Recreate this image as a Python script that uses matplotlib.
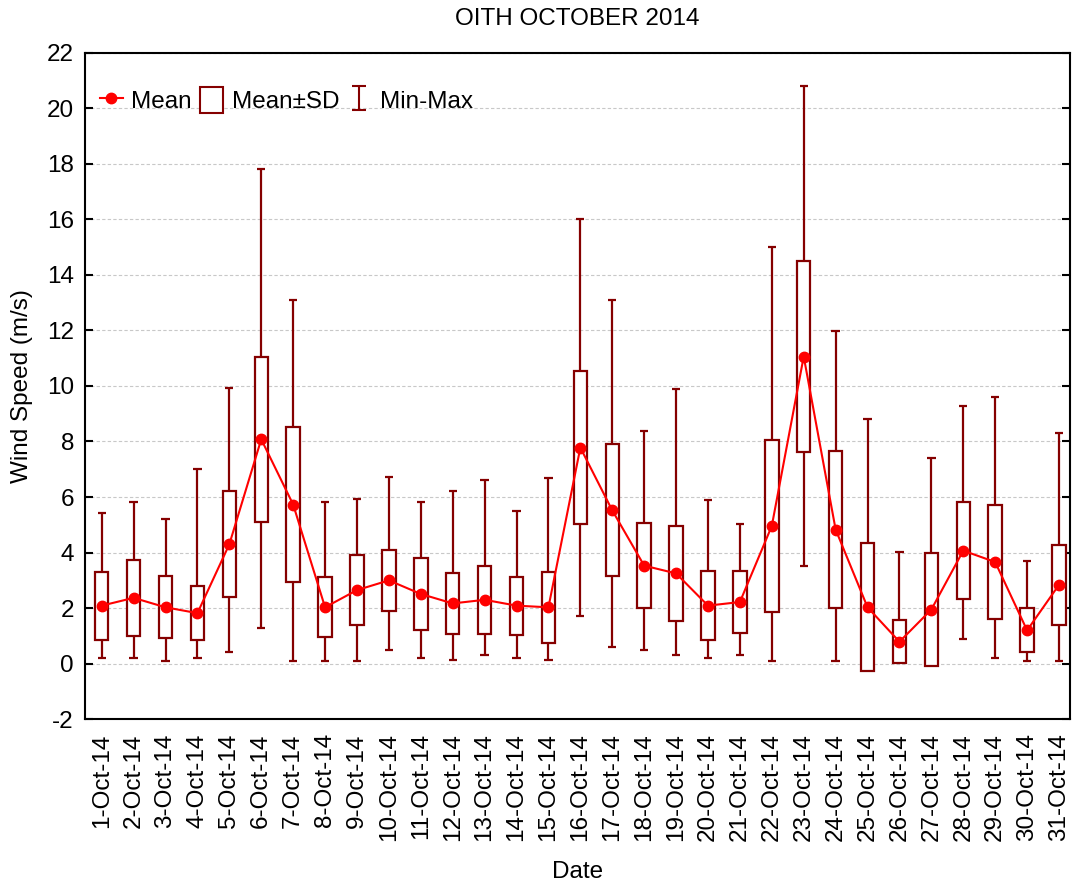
import numpy as np
import matplotlib.pyplot as plt
from matplotlib.lines import Line2D
from matplotlib.patches import Rectangle
from matplotlib.path import Path

plt.rcParams['font.family'] = ['Liberation Sans', 'DejaVu Sans']

days = [f"{d}-Oct-14" for d in range(1, 32)]
mean = [2.09, 2.37, 2.03, 1.82, 4.30, 8.08, 5.73, 2.03, 2.65, 3.00,
        2.51, 2.17, 2.30, 2.09, 2.03, 7.78, 5.52, 3.53, 3.25, 2.09,
        2.22, 4.96, 11.06, 4.83, 2.03, 0.79, 1.95, 4.07, 3.66, 1.20, 2.84]
sd = [1.22, 1.37, 1.12, 0.98, 1.90, 2.98, 2.80, 1.08, 1.25, 1.10,
      1.29, 1.10, 1.22, 1.04, 1.28, 2.75, 2.38, 1.53, 1.72, 1.24,
      1.10, 3.09, 3.45, 2.82, 2.30, 0.78, 2.05, 1.75, 2.04, 0.79, 1.45]
wmin = [0.20, 0.20, 0.10, 0.20, 0.41, 1.30, 0.10, 0.10, 0.10, 0.49,
        0.22, 0.12, 0.33, 0.22, 0.12, 1.73, 0.61, 0.51, 0.33, 0.22,
        0.33, 0.10, 3.50, 0.10, 0.10, 0.10, 0.10, 0.90, 0.21, 0.10, 0.10]
wmax = [5.43, 5.81, 5.20, 7.00, 9.93, 17.80, 13.10, 5.81, 5.92, 6.73,
        5.82, 6.20, 6.60, 5.50, 6.69, 16.00, 13.10, 8.39, 9.90, 5.91,
        5.02, 15.00, 20.80, 11.98, 8.80, 4.01, 7.39, 9.29, 9.60, 3.69, 8.32]

dark = '#850000'
red = '#ff0000'
fs = 17.5

x = np.arange(1, len(days) + 1)
mean = np.array(mean)
sd = np.array(sd)

fig = plt.figure(figsize=(10.72, 8.85), dpi=100)
ax = fig.add_axes([0.0793, 0.1873, 0.9184, 0.7532])

# whiskers (min-max) behind the boxes
ax.vlines(x, wmin, wmax, color=dark, lw=1.6, zorder=2)
cap = 0.13
ax.hlines(wmin, x - cap, x + cap, color=dark, lw=1.6, zorder=2)
ax.hlines(wmax, x - cap, x + cap, color=dark, lw=1.6, zorder=2)

# mean +- sd boxes
ax.bar(x, 2 * sd, bottom=mean - sd, width=0.42, facecolor='white',
       edgecolor=dark, linewidth=1.6, zorder=3)

# mean line
ax.plot(x, mean, '-o', color=red, lw=1.5, markersize=7.5, zorder=4)

ax.set_xlim(0.477, 31.33)
ax.set_ylim(-2, 22)
ax.set_yticks(np.arange(-2, 23, 2))
ax.set_yticklabels([str(v) for v in range(-2, 23, 2)])
ax.yaxis.grid(True, color='#c8c8c8', linestyle=(0, (3, 2)), lw=0.8)
ax.set_axisbelow(True)

ax.set_xticks(x)
ax.set_xticklabels(days, rotation=90)
ax.set_xticks(x[::2], minor=True)
ax.tick_params(axis='x', which='major', length=0, pad=10, labelsize=fs)
ax.tick_params(axis='x', which='minor', direction='in', length=6, width=1.5,
               top=True, bottom=True)
ax.tick_params(axis='y', direction='in', length=6, width=1.5, right=True,
               labelsize=fs, pad=8)
for s in ax.spines.values():
    s.set_linewidth(1.5)

ax.set_title('OITH OCTOBER 2014', fontsize=fs, pad=20)
ax.set_xlabel('Date', fontsize=fs, labelpad=14)
ax.set_ylabel('Wind Speed (m/s)', fontsize=fs, labelpad=10)

# legend
ibeam = Path([(-0.6, 1), (0.6, 1), (0, 1), (0, -1), (-0.6, -1), (0.6, -1)],
             [Path.MOVETO, Path.LINETO, Path.MOVETO, Path.LINETO,
              Path.MOVETO, Path.LINETO])
handles = [
    Line2D([], [], color=red, marker='o', lw=1.5, markersize=7.5),
    Rectangle((0, 0), 1, 1, facecolor='white', edgecolor=dark, lw=1.5),
    Line2D([], [], color=dark, marker=ibeam, linestyle='none',
           markersize=17, markeredgewidth=1.5, markerfacecolor='none'),
]
ax.legend(handles, ['Mean', 'Mean\u00b1SD', 'Min-Max'], loc='upper left',
          ncol=3, frameon=False, fontsize=fs, handlelength=0.95,
          handleheight=1.25, handletextpad=0.35, columnspacing=0.35,
          bbox_to_anchor=(0.0, 0.97), borderaxespad=0.2)

fig.savefig('out.png', dpi=100)
